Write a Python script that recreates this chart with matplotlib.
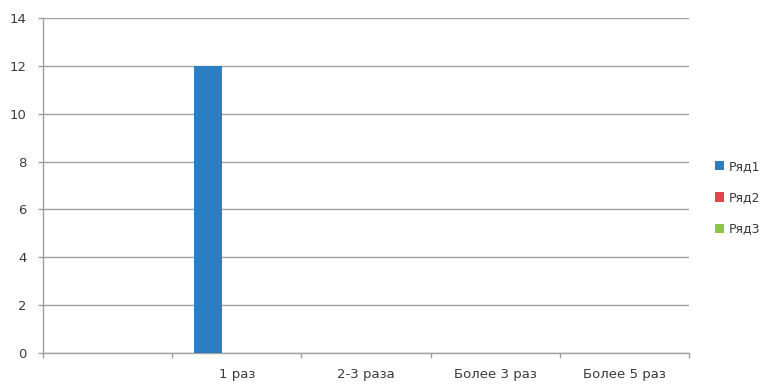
import numpy as np
import matplotlib.pyplot as plt
from matplotlib.patches import Patch

categories = ["", "1 раз", "2-3 раза", "Более 3 раз", "Более 5 раз"]
series_names = ["Ряд1", "Ряд2", "Ряд3"]
row1 = [0, 12, 0, 0, 0]
row2 = [0, 0, 0, 0, 0]
row3 = [0, 0, 0, 0, 0]
colors = ["#2B7EC1", "#E0474C", "#8DC549"]
y_ticks = [0, 2, 4, 6, 8, 10, 12, 14]

plt.rcParams["font.family"] = "DejaVu Sans"
fs = 9.5

fig = plt.figure(figsize=(7.65, 3.85), dpi=100)
ax = fig.add_axes([0.0562, 0.0831, 0.9007 - 0.0562, 0.9532 - 0.0831])

x = np.arange(len(categories))
width = 1 / 4.5
for i, (vals, col) in enumerate(zip([row1, row2, row3], colors)):
    ax.bar(x + (i - 1) * width, vals, width=width, color=col, linewidth=0, zorder=3)

ax.set_xlim(-0.5, len(categories) - 0.5)
ax.set_ylim(0, 14)
ax.set_yticks(y_ticks)
ax.tick_params(axis="y", labelsize=fs, length=3.6, color="#A0A0A0", width=1,
               labelcolor="#3A3A3A", pad=8)
ax.yaxis.grid(True, color="#A0A0A0", linewidth=1, zorder=0)

# category boundaries as tick marks, labels in the middle
ax.set_xticks(np.arange(len(categories) + 1) - 0.5)
ax.set_xticklabels([])
ax.tick_params(axis="x", length=3.6, color="#A0A0A0", width=1)
ax.set_xticks(x, minor=True)
ax.set_xticklabels(categories, minor=True)
ax.tick_params(axis="x", which="minor", length=0, labelsize=fs,
               labelcolor="#3A3A3A", pad=11)

for s in ["top", "right"]:
    ax.spines[s].set_visible(False)
for s in ["left", "bottom"]:
    ax.spines[s].set_color("#A0A0A0")
    ax.spines[s].set_linewidth(1)

handles = [Patch(facecolor=c, edgecolor="none") for c in colors]
fig.legend(handles, series_names, loc="center left", bbox_to_anchor=(0.934, 0.486),
           frameon=False, fontsize=9, handlelength=0.75, handleheight=0.75,
           handletextpad=0.4, labelspacing=1.45, labelcolor="#3A3A3A",
           borderpad=0, borderaxespad=0)

fig.savefig("out.png", dpi=100)
